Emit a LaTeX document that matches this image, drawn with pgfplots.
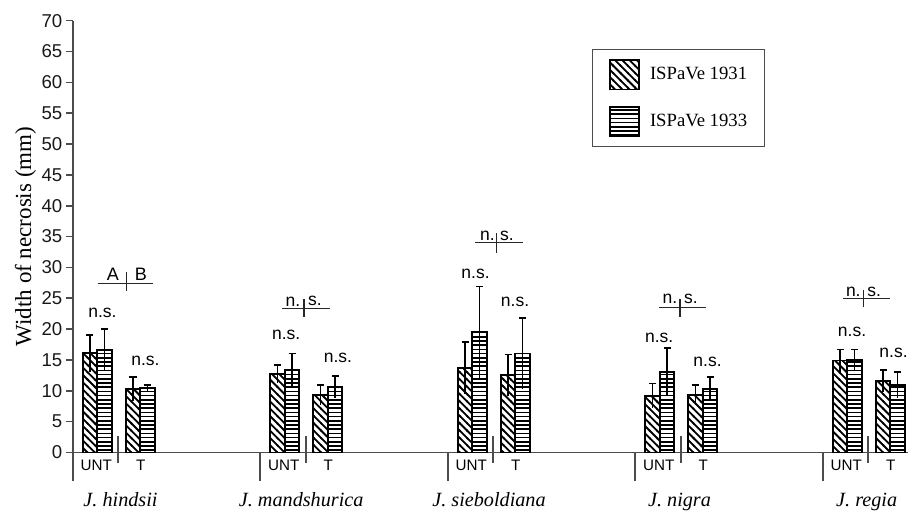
\documentclass[border=0pt]{standalone}
\usepackage{fontspec}
\setmainfont{Liberation Sans}
\newfontfamily\serif{Liberation Serif}
\usepackage{pgfplots}
\pgfplotsset{compat=1.18}
\usepackage{pgfplotstable}
\usetikzlibrary{patterns}

\pgfdeclarepatternformonly{hatchnw}{\pgfqpoint{-0.5pt}{-0.5pt}}{\pgfqpoint{4.15pt}{4.15pt}}{\pgfqpoint{3.65pt}{3.65pt}}{%
  \pgfsetlinewidth{0.9pt}%
  \pgfpathmoveto{\pgfqpoint{-0.5pt}{4.15pt}}%
  \pgfpathlineto{\pgfqpoint{4.15pt}{-0.5pt}}%
  \pgfusepath{stroke}%
}
\pgfdeclarepatternformonly{hlinesx}{\pgfqpoint{-0.1pt}{0pt}}{\pgfqpoint{2.2pt}{2.1pt}}{\pgfqpoint{2.1pt}{2.1pt}}{%
  \pgfsetlinewidth{0.8pt}%
  \pgfpathmoveto{\pgfqpoint{-0.1pt}{1.05pt}}%
  \pgfpathlineto{\pgfqpoint{2.2pt}{1.05pt}}%
  \pgfusepath{stroke}%
}

% ISPaVe 1931
\pgfplotstableread{
x y e
17.3 16.1 3.0
60.3 10.3 1.9
204.8 12.7 1.5
247.8 9.3 1.6
392.3 13.7 4.2
435.3 12.5 3.4
579.8 9.2 2.0
622.8 9.35 1.6
767.3 14.9 1.8
810.3 11.6 1.75
}\tA
% ISPaVe 1933
\pgfplotstableread{
x y e
31.8 16.6 3.4
74.8 10.4 0.5
219.3 13.4 2.65
262.3 10.6 1.8
406.8 19.5 7.4
449.8 16.05 5.7
594.3 13.0 3.9
637.3 10.3 1.9
781.8 15.0 1.7
824.8 10.9 2.1
}\tB

\newcommand{\nsf}{\fontsize{8.75}{10}\selectfont}
\newcommand{\catf}{\fontsize{7.6}{9}\selectfont}
\newcommand{\spf}{\serif\itshape\fontsize{10.1}{12}\selectfont}

\begin{document}
\begin{tikzpicture}
\begin{axis}[
  at={(0,0)}, anchor=south west,
  x=0.5pt, y=3.085pt,
  xmin=0, xmax=835.3, ymin=0, ymax=70,
  axis lines*=left,
  axis line style={black!70, line width=0.8pt},
  xtick=\empty,
  ytick={0,5,...,70},
  tick align=outside,
  major tick length=3.3pt,
  ytick style={black!70, line width=0.8pt},
  yticklabel style={font=\fontsize{9.3}{10}\selectfont, inner sep=1.7pt, text=black!90},
  /pgf/number format/assume math mode=true,
  clip=false,
  legend image code/.code={\draw[#1] (0pt,-7.4pt) rectangle (14.5pt,7.4pt);},
  legend style={at={(axis cs:519,65.35)}, anchor=north west, draw=black!70, line width=0.5pt, fill=white,
    inner xsep=8.5pt, inner ysep=4.6pt, row sep=7.7pt,
    font=\serif\fontsize{9.35}{11}\selectfont, nodes={inner sep=0pt},
    /tikz/every odd column/.append style={column sep=5pt}},
  legend cell align=left,
]
\addplot[ybar, bar width=7.25pt, bar shift=0pt, draw=black, line width=0.9pt, pattern=hatchnw, pattern color=black]
  table[x=x,y=y]{\tA};
\addlegendentry{ISPaVe 1931}
\addplot[ybar, bar width=7.25pt, bar shift=0pt, draw=black, line width=0.9pt, pattern=hlinesx, pattern color=black]
  table[x=x,y=y]{\tB};
\addlegendentry{ISPaVe 1933}

% error bars (cap on top, plain line below)
\addplot[forget plot, draw=none, mark=none, error bars/.cd, y dir=plus, y explicit, error mark=|,
  error bar style={draw=black, line width=0.85pt}, error mark options={draw=black, line width=0.85pt, mark size=1.75pt}]
  table[x=x,y=y,y error=e]{\tA};
\addplot[forget plot, draw=none, mark=none, error bars/.cd, y dir=minus, y explicit, error mark=none,
  error bar style={draw=black, line width=0.85pt}]
  table[x=x,y=y,y error=e]{\tA};
\addplot[forget plot, draw=none, mark=none, error bars/.cd, y dir=plus, y explicit, error mark=|,
  error bar style={draw=black, line width=0.85pt}, error mark options={draw=black, line width=0.85pt, mark size=1.75pt}]
  table[x=x,y=y,y error=e]{\tB};
\addplot[forget plot, draw=none, mark=none, error bars/.cd, y dir=minus, y explicit, error mark=none,
  error bar style={draw=black, line width=0.85pt}]
  table[x=x,y=y,y error=e]{\tB};

% axis extension and category ticks
\draw[black!70, line width=0.8pt] (axis cs:0,0) -- (axis cs:0,-4.55);
\draw[black!70, line width=0.8pt] (axis cs:187.5,0) -- (axis cs:187.5,-4.55);
\draw[black!70, line width=0.8pt] (axis cs:375,0) -- (axis cs:375,-4.55);
\draw[black!70, line width=0.8pt] (axis cs:562.5,0) -- (axis cs:562.5,-4.55);
\draw[black!70, line width=0.8pt] (axis cs:750,0) -- (axis cs:750,-4.55);

\draw[black!70, line width=0.8pt] (axis cs:45.5,2.6) -- (axis cs:45.5,-1.7);
\draw[black!70, line width=0.8pt] (axis cs:233,2.6) -- (axis cs:233,-1.7);
\draw[black!70, line width=0.8pt] (axis cs:420.5,2.6) -- (axis cs:420.5,-1.7);
\draw[black!70, line width=0.8pt] (axis cs:608,2.6) -- (axis cs:608,-1.7);
\draw[black!70, line width=0.8pt] (axis cs:795.5,2.6) -- (axis cs:795.5,-1.7);

\node[font=\catf, anchor=base, inner sep=0pt] at (axis cs:23.5,-2.85) {UNT};
\node[font=\catf, anchor=base, inner sep=0pt] at (axis cs:68,-2.85) {T};
\node[font=\catf, anchor=base, inner sep=0pt] at (axis cs:211,-2.85) {UNT};
\node[font=\catf, anchor=base, inner sep=0pt] at (axis cs:255.5,-2.85) {T};
\node[font=\catf, anchor=base, inner sep=0pt] at (axis cs:398.5,-2.85) {UNT};
\node[font=\catf, anchor=base, inner sep=0pt] at (axis cs:443,-2.85) {T};
\node[font=\catf, anchor=base, inner sep=0pt] at (axis cs:586,-2.85) {UNT};
\node[font=\catf, anchor=base, inner sep=0pt] at (axis cs:630.5,-2.85) {T};
\node[font=\catf, anchor=base, inner sep=0pt] at (axis cs:773.5,-2.85) {UNT};
\node[font=\catf, anchor=base, inner sep=0pt] at (axis cs:818,-2.85) {T};

% species names
\node[font=\spf, anchor=base, inner sep=0pt] at (axis cs:47.8,-8.8) {J. hindsii};
\node[font=\spf, anchor=base, inner sep=0pt] at (axis cs:228.5,-8.8) {J. mandshurica};
\node[font=\spf, anchor=base, inner sep=0pt] at (axis cs:416.3,-8.8) {J. sieboldiana};
\node[font=\spf, anchor=base, inner sep=0pt] at (axis cs:606.8,-8.8) {J. nigra};
\node[font=\spf, anchor=base, inner sep=0pt] at (axis cs:794,-8.8) {J. regia};

% n.s. labels
\node[font=\nsf, inner sep=0pt] at (axis cs:29.8,22.7) {n.s.};
\node[font=\nsf, inner sep=0pt] at (axis cs:72.8,14.9) {n.s.};
\node[font=\nsf, inner sep=0pt] at (axis cs:213.5,19.0) {n.s.};
\node[font=\nsf, inner sep=0pt] at (axis cs:265.3,15.3) {n.s.};
\node[font=\nsf, inner sep=0pt] at (axis cs:402.8,29.0) {n.s.};
\node[font=\nsf, inner sep=0pt] at (axis cs:442.3,24.4) {n.s.};
\node[font=\nsf, inner sep=0pt] at (axis cs:586.5,18.6) {n.s.};
\node[font=\nsf, inner sep=0pt] at (axis cs:634.8,14.7) {n.s.};
\node[font=\nsf, inner sep=0pt] at (axis cs:779.3,19.5) {n.s.};
\node[font=\nsf, inner sep=0pt] at (axis cs:820.8,16.1) {n.s.};

% brackets
\draw[black!85, line width=0.6pt] (axis cs:25,27.4) -- (axis cs:80,27.4);
\draw[black!85, line width=0.6pt] (axis cs:54,29.2) -- (axis cs:54,26.2);
\node[font=\fontsize{9}{10}\selectfont, inner sep=0pt] at (axis cs:40.3,28.9) {A};
\node[font=\fontsize{9}{10}\selectfont, inner sep=0pt] at (axis cs:68.3,28.9) {B};

\draw[black!85, line width=0.6pt] (axis cs:209.3,23.4) -- (axis cs:257.3,23.4);
\draw[black!85, line width=0.6pt] (axis cs:231.3,24.8) -- (axis cs:231.3,22.0);
\node[font=\nsf, inner sep=0pt] at (axis cs:220.3,24.5) {n.};
\node[font=\nsf, inner sep=0pt] at (axis cs:242.3,24.5) {s.};

\draw[black!85, line width=0.6pt] (axis cs:402.3,34.0) -- (axis cs:450,34.0);
\draw[black!85, line width=0.6pt] (axis cs:424,35.5) -- (axis cs:424,32.4);
\node[font=\nsf, inner sep=0pt] at (axis cs:414.8,35.1) {n.};
\node[font=\nsf, inner sep=0pt] at (axis cs:434.3,35.1) {s.};

\draw[black!85, line width=0.6pt] (axis cs:586.3,23.5) -- (axis cs:633,23.5);
\draw[black!85, line width=0.6pt] (axis cs:607.3,24.9) -- (axis cs:607.3,22.0);
\node[font=\nsf, inner sep=0pt] at (axis cs:597.3,24.9) {n.};
\node[font=\nsf, inner sep=0pt] at (axis cs:618.1,24.9) {s.};

\draw[black!85, line width=0.6pt] (axis cs:770.3,25.0) -- (axis cs:817.3,25.0);
\draw[black!85, line width=0.6pt] (axis cs:790.6,26.4) -- (axis cs:790.6,23.6);
\node[font=\nsf, inner sep=0pt] at (axis cs:780.6,26.1) {n.};
\node[font=\nsf, inner sep=0pt] at (axis cs:801.5,26.1) {s.};

% y label
\node[rotate=90, font=\serif\fontsize{11.5}{13}\selectfont, inner sep=0pt] at (axis cs:-47.2,35) {Width of necrosis (mm)};
\end{axis}
\pgfresetboundingbox
\useasboundingbox (-36.35pt,-29.25pt) rectangle (417.65pt,226.25pt);
\end{tikzpicture}
\end{document}
